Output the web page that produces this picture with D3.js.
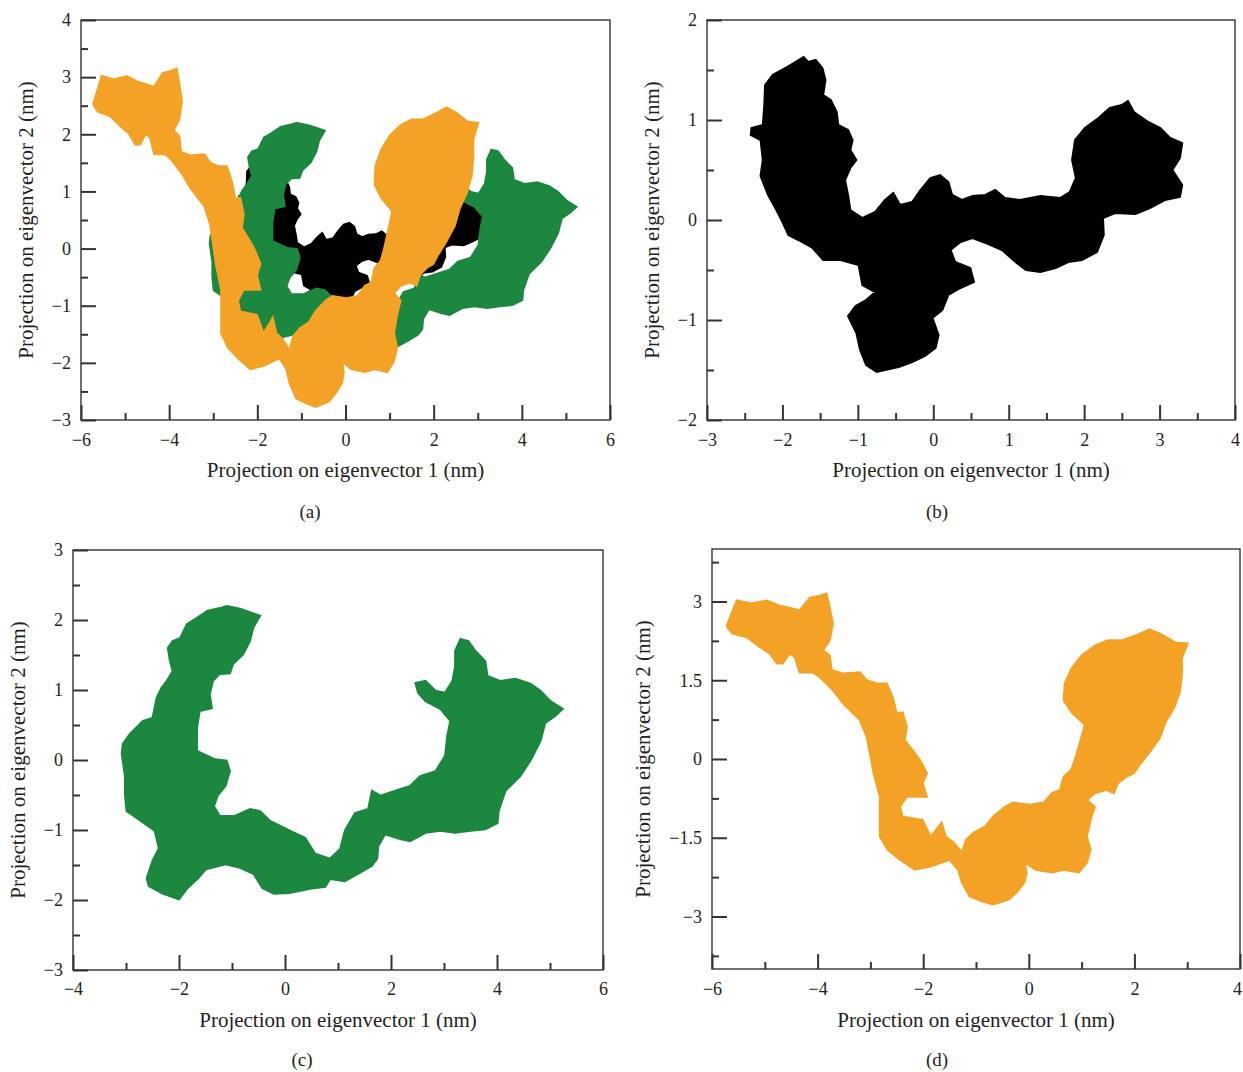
<!DOCTYPE html>
<html><head><meta charset="utf-8">
<script src="https://cdn.jsdelivr.net/npm/d3@7"></script>
<style>
body{margin:0;background:#fff;}
svg{display:block;}
text{font-family:"Liberation Serif","Times New Roman",serif;fill:#231f20;}
</style>
</head><body>
<svg id="chart" width="1243" height="1072"></svg>
<script>
// ---- data: outlines of the projected trajectories (eigenvector 1, eigenvector 2), nm ----
const blackOutline = [
[-1.72,1.63],[-1.66,1.58],[-1.56,1.60],[-1.47,1.52],[-1.43,1.40],[-1.46,1.25],[-1.36,1.20],[-1.28,1.08],
[-1.26,0.95],[-1.13,0.90],[-1.07,0.80],[-1.10,0.70],[-1.02,0.60],[-1.10,0.52],[-1.17,0.40],[-1.13,0.25],
[-1.10,0.10],[-0.94,0.02],[-0.77,0.08],[-0.64,0.20],[-0.53,0.27],[-0.44,0.15],[-0.28,0.18],[-0.17,0.30],
[-0.04,0.42],[0.09,0.45],[0.20,0.38],[0.25,0.25],[0.38,0.20],[0.52,0.24],[0.69,0.25],[0.82,0.30],
[0.95,0.22],[1.15,0.20],[1.42,0.24],[1.68,0.22],[1.81,0.28],[1.89,0.42],[1.84,0.60],[1.88,0.80],
[2.01,0.92],[2.19,1.02],[2.34,1.12],[2.50,1.15],[2.58,1.19],[2.66,1.08],[2.85,0.98],[3.01,0.92],
[3.14,0.82],[3.30,0.77],[3.27,0.62],[3.17,0.50],[3.30,0.35],[3.27,0.23],[3.07,0.20],[2.87,0.12],
[2.68,0.06],[2.41,0.07],[2.25,0.02],[2.26,-0.15],[2.17,-0.32],[1.97,-0.40],[1.79,-0.42],[1.62,-0.48],
[1.42,-0.52],[1.23,-0.50],[1.09,-0.42],[0.91,-0.30],[0.73,-0.24],[0.52,-0.18],[0.36,-0.22],[0.23,-0.30],
[0.29,-0.42],[0.49,-0.48],[0.54,-0.62],[0.36,-0.68],[0.20,-0.75],[0.12,-0.90],[-0.01,-0.98],[0.07,-1.15],
[0.03,-1.28],[-0.11,-1.36],[-0.28,-1.42],[-0.46,-1.47],[-0.64,-1.50],[-0.75,-1.52],[-0.89,-1.45],[-0.97,-1.30],
[-1.02,-1.13],[-1.13,-0.96],[-1.03,-0.86],[-0.89,-0.80],[-0.77,-0.72],[-0.94,-0.65],[-0.99,-0.45],[-1.23,-0.40],
[-1.46,-0.40],[-1.60,-0.28],[-1.79,-0.20],[-1.92,-0.15],[-2.00,-0.02],[-2.08,0.10],[-2.19,0.25],[-2.29,0.44],
[-2.26,0.60],[-2.29,0.80],[-2.42,0.85],[-2.41,0.92],[-2.26,0.95],[-2.24,1.15],[-2.23,1.35],[-2.13,1.45],
[-1.96,1.52],[-1.83,1.58]
];
const greenOutline = [
[-1.10,2.20],[-0.85,2.16],[-0.62,2.10],[-0.47,2.06],[-0.60,1.89],[-0.66,1.70],[-0.79,1.51],[-0.98,1.37],
[-1.04,1.24],[-1.23,1.23],[-1.36,1.13],[-1.42,0.94],[-1.38,0.74],[-1.61,0.70],[-1.66,0.46],[-1.66,0.13],
[-1.32,0.01],[-1.10,-0.01],[-1.04,-0.16],[-1.12,-0.37],[-1.27,-0.51],[-1.34,-0.66],[-1.23,-0.80],[-0.95,-0.80],
[-0.66,-0.70],[-0.47,-0.73],[-0.28,-0.87],[0.09,-1.01],[0.38,-1.11],[0.57,-1.34],[0.85,-1.41],[1.04,-1.27],
[1.13,-1.01],[1.32,-0.76],[1.57,-0.70],[1.64,-0.44],[1.80,-0.51],[2.08,-0.44],[2.36,-0.37],[2.55,-0.23],
[2.84,-0.16],[3.02,0.06],[3.06,0.34],[3.12,0.56],[2.93,0.73],[2.65,0.84],[2.51,0.96],[2.46,1.10],
[2.65,1.13],[2.84,0.99],[3.02,0.96],[3.16,1.13],[3.21,1.34],[3.21,1.56],[3.31,1.73],[3.46,1.70],
[3.59,1.56],[3.78,1.41],[3.82,1.20],[4.06,1.13],[4.35,1.16],[4.63,1.09],[4.82,0.99],[5.01,0.84],
[5.24,0.73],[5.10,0.63],[4.91,0.53],[4.82,0.27],[4.63,-0.01],[4.44,-0.23],[4.16,-0.44],[4.03,-0.73],
[4.01,-0.90],[3.78,-0.99],[3.50,-1.01],[3.21,-1.04],[2.93,-1.01],[2.65,-1.04],[2.36,-1.16],[2.17,-1.13],
[1.89,-1.06],[1.76,-1.23],[1.74,-1.41],[1.64,-1.51],[1.42,-1.61],[1.13,-1.73],[0.85,-1.70],[0.76,-1.81],
[0.47,-1.84],[0.09,-1.90],[-0.21,-1.91],[-0.43,-1.83],[-0.59,-1.63],[-0.85,-1.54],[-1.12,-1.49],[-1.49,-1.56],
[-1.64,-1.69],[-1.85,-1.84],[-2.00,-1.99],[-2.31,-1.91],[-2.57,-1.80],[-2.61,-1.69],[-2.50,-1.44],[-2.38,-1.26],
[-2.46,-1.01],[-2.91,-0.77],[-2.99,-0.73],[-3.02,-0.49],[-3.02,-0.23],[-3.08,0.09],[-3.06,0.23],[-2.93,0.37],
[-2.68,0.56],[-2.50,0.60],[-2.42,0.89],[-2.33,1.03],[-2.23,1.13],[-2.12,1.27],[-2.17,1.41],[-2.21,1.60],
[-2.12,1.70],[-1.98,1.74],[-1.85,1.94],[-1.66,2.03],[-1.47,2.13],[-1.23,2.17]
];
const orangeOutline = [
[-5.72,2.54],[-5.53,3.02],[-5.25,2.96],[-4.96,3.02],[-4.72,2.92],[-4.53,2.88],[-4.34,2.83],[-4.15,3.07],
[-3.96,3.11],[-3.83,3.15],[-3.77,2.88],[-3.71,2.58],[-3.77,2.26],[-3.90,2.07],[-3.77,1.97],[-3.73,1.69],
[-3.52,1.63],[-3.20,1.65],[-3.07,1.50],[-2.88,1.44],[-2.69,1.44],[-2.58,1.18],[-2.50,0.87],[-2.39,0.89],
[-2.31,0.61],[-2.35,0.36],[-2.20,0.17],[-2.06,-0.02],[-1.93,-0.27],[-2.01,-0.46],[-1.93,-0.72],[-2.31,-0.72],
[-2.44,-0.91],[-2.39,-1.10],[-2.01,-1.16],[-1.86,-1.48],[-1.65,-1.21],[-1.57,-1.48],[-1.42,-1.59],[-1.27,-1.78],
[-1.19,-1.54],[-1.04,-1.40],[-0.83,-1.29],[-0.68,-1.10],[-0.45,-0.91],[-0.30,-0.83],[0.02,-0.87],[0.28,-0.83],
[0.44,-0.65],[0.59,-0.59],[0.66,-0.34],[0.80,-0.21],[0.87,-0.02],[0.97,0.32],[1.06,0.65],[0.81,0.89],
[0.66,1.12],[0.68,1.44],[0.81,1.73],[1.00,1.97],[1.25,2.16],[1.50,2.26],[1.76,2.26],[2.06,2.37],
[2.29,2.47],[2.52,2.37],[2.77,2.22],[3.01,2.20],[2.90,1.92],[2.90,1.59],[2.86,1.27],[2.75,0.97],
[2.59,0.70],[2.48,0.40],[2.29,0.13],[2.10,-0.11],[1.99,-0.27],[1.84,-0.34],[1.69,-0.46],[1.61,-0.65],
[1.48,-0.59],[1.25,-0.65],[1.10,-0.78],[1.25,-0.91],[1.17,-1.16],[1.10,-1.48],[1.17,-1.73],[1.10,-1.97],
[0.95,-2.16],[0.66,-2.11],[0.44,-2.16],[0.13,-2.11],[-0.08,-1.97],[-0.04,-2.16],[-0.08,-2.35],[-0.23,-2.54],
[-0.38,-2.68],[-0.68,-2.77],[-0.89,-2.71],[-1.12,-2.62],[-1.27,-2.35],[-1.34,-2.11],[-1.50,-1.92],[-1.86,-2.05],
[-2.16,-2.11],[-2.44,-1.92],[-2.67,-1.73],[-2.82,-1.48],[-2.82,-1.10],[-2.82,-0.72],[-2.94,-0.27],[-3.01,0.11],
[-3.07,0.42],[-3.20,0.74],[-3.33,0.87],[-3.52,1.06],[-3.71,1.31],[-3.96,1.56],[-4.09,1.65],[-4.34,1.65],
[-4.43,1.94],[-4.53,2.01],[-4.66,1.82],[-4.77,1.82],[-4.91,2.01],[-5.09,2.13],[-5.34,2.32],[-5.61,2.39],
[-5.70,2.49]
];

// ---- ticks ----
const xMajorA = [-6,-4,-2,0,2,4,6];
const xMinorA = [-5,-3,-1,1,3,5];
const yMajorA = [-3,-2,-1,0,1,2,3,4];
const yMinorA = [-2.5,-1.5,-0.5,0.5,1.5,2.5,3.5];
const xMajorB = [-3,-2,-1,0,1,2,3,4];
const xMinorB = [-2.5,-1.5,-0.5,0.5,1.5,2.5,3.5];
const yMajorB = [-2,-1,0,1,2];
const yMinorB = [-1.5,-0.5,0.5,1.5];
const xMajorC = [-4,-2,0,2,4,6];
const xMinorC = [-3,-1,1,3,5];
const yMajorC = [-3,-2,-1,0,1,2,3];
const yMinorC = [-2.5,-1.5,-0.5,0.5,1.5,2.5];
const xMajorD = [-6,-4,-2,0,2,4];
const xMinorD = [-5,-3,-1,1,3];
const yMajorD = [-3,-1.5,0,1.5,3];
const yMinorD = [-3.75,-2.25,-0.75,0.75,2.25,3.75];

const xTitle = "Projection on eigenvector 1 (nm)";
const yTitle = "Projection on eigenvector 2 (nm)";

const seriesData = {black: blackOutline, green: greenOutline, orange: orangeOutline};
const colors = {black: "#000000", green: "#1b873f", orange: "#f4a226"};

// ---- layout ----
const panels = [
  {label:"(a)", left:81, top:20, right:610, bottom:420, xd:[-6,6], yd:[-3,4],
   xM:xMajorA, xm:xMinorA, yM:yMajorA, ym:yMinorA, series:["black","green","orange"],
   labX:310, labY:518, yTX:26, xTY:477, tickY:446},
  {label:"(b)", left:707, top:20, right:1235, bottom:420, xd:[-3,4], yd:[-2,2],
   xM:xMajorB, xm:xMinorB, yM:yMajorB, ym:yMinorB, series:["black"],
   labX:937, labY:518, yTX:652, xTY:477, tickY:446},
  {label:"(c)", left:73, top:550, right:603, bottom:970, xd:[-4,6], yd:[-3,3],
   xM:xMajorC, xm:xMinorC, yM:yMajorC, ym:yMinorC, series:["green"],
   labX:302, labY:1066, yTX:18, xTY:1027, tickY:995},
  {label:"(d)", left:712, top:549, right:1240, bottom:969, xd:[-6,4], yd:[-4,4],
   xM:xMajorD, xm:xMinorD, yM:yMajorD, ym:yMinorD, series:["orange"],
   labX:937, labY:1066, yTX:643, xTY:1027, tickY:995}
];

const svg = d3.select("#chart");
const fmt = d3.format("~g");
const axisColor = "#333";
const W = 1243;

panels.forEach((p, i) => {
  const xs = d3.scaleLinear().domain(p.xd).range([p.left, p.right]);
  const ys = d3.scaleLinear().domain(p.yd).range([p.bottom, p.top]);
  const g = svg.append("g");
  const clipId = "clip" + i;
  svg.append("clipPath").attr("id", clipId).append("rect")
    .attr("x", p.left).attr("y", p.top).attr("width", p.right - p.left).attr("height", p.bottom - p.top);

  const line = d3.line().x(d => xs(d[0])).y(d => ys(d[1])).curve(d3.curveLinear);
  const dg = g.append("g").attr("clip-path", `url(#${clipId})`);
  p.series.forEach(s => {
    dg.append("path").attr("d", line(seriesData[s]) + "Z")
      .attr("fill", colors[s]).attr("stroke", colors[s]).attr("stroke-width", 2)
      .attr("stroke-linejoin", "miter");
  });

  // frame
  g.append("rect").attr("x", p.left).attr("y", p.top)
    .attr("width", p.right - p.left).attr("height", p.bottom - p.top)
    .attr("fill", "none").attr("stroke", axisColor).attr("stroke-width", 1.4);

  // x ticks (inward)
  const xAxis = d3.axisBottom(xs).tickValues(p.xM).tickSize(-15).tickPadding(10).tickFormat(fmt);
  const gx = g.append("g").attr("transform", `translate(0,${p.bottom})`).call(xAxis);
  gx.select(".domain").remove();
  gx.selectAll(".tick line").attr("stroke", axisColor).attr("stroke-width", 2);
  gx.selectAll(".tick text").attr("y", null).attr("dy", null)
    .attr("transform", `translate(0,${p.tickY - p.bottom})`)
    .style("font-size", "18px").style("font-family", '"Liberation Serif", serif').attr("fill", "#231f20")
    .attr("dx", d => (xs(d) + 6 > W ? -(xs(d) + 6 - W) : 0));
  const xAxisMin = d3.axisBottom(xs).tickValues(p.xm).tickSize(-7).tickFormat("");
  const gxm = g.append("g").attr("transform", `translate(0,${p.bottom})`).call(xAxisMin);
  gxm.select(".domain").remove();
  gxm.selectAll(".tick line").attr("stroke", axisColor).attr("stroke-width", 2);

  // y ticks (inward)
  const yAxis = d3.axisLeft(ys).tickValues(p.yM).tickSize(-15).tickPadding(10).tickFormat(fmt);
  const gy = g.append("g").attr("transform", `translate(${p.left},0)`).call(yAxis);
  gy.select(".domain").remove();
  gy.selectAll(".tick line").attr("stroke", axisColor).attr("stroke-width", 2);
  gy.selectAll(".tick text").attr("x", -10)
    .style("font-size", "18px").style("font-family", '"Liberation Serif", serif').attr("fill", "#231f20");
  const yAxisMin = d3.axisLeft(ys).tickValues(p.ym).tickSize(-7).tickFormat("");
  const gym = g.append("g").attr("transform", `translate(${p.left},0)`).call(yAxisMin);
  gym.select(".domain").remove();
  gym.selectAll(".tick line").attr("stroke", axisColor).attr("stroke-width", 2);

  // titles
  g.append("text").attr("x", (p.left + p.right) / 2).attr("y", p.xTY)
    .attr("text-anchor", "middle").style("font-size", "21px").text(xTitle);
  g.append("text").attr("transform", `translate(${p.yTX},${(p.top + p.bottom) / 2}) rotate(-90)`)
    .attr("text-anchor", "middle").attr("dy", "0.35em").style("font-size", "21px").text(yTitle);
  g.append("text").attr("x", p.labX).attr("y", p.labY)
    .attr("text-anchor", "middle").style("font-size", "19px").text(p.label);
});
</script>
</body></html>
